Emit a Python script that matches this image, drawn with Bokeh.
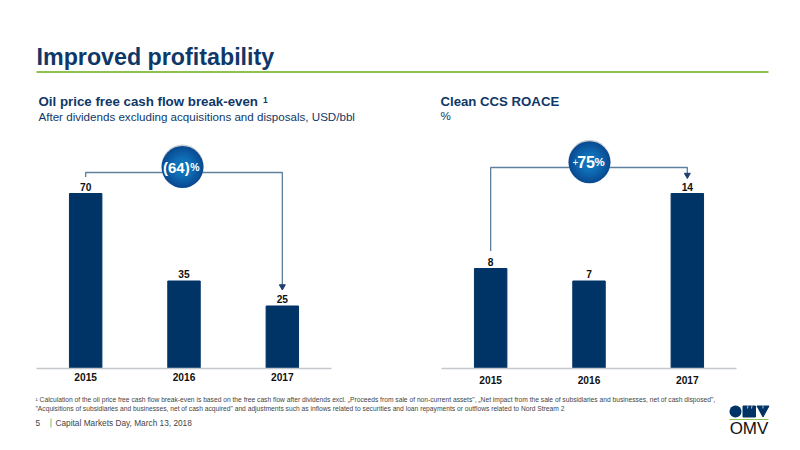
from bokeh.core.properties import value
from bokeh.embed import file_html
from bokeh.layouts import column, row
from bokeh.models import ColumnDataSource, Range1d
from bokeh.plotting import figure
from bokeh.resources import INLINE

# ---- data ----
years = ["2015", "2016", "2017"]
breakeven = [70, 35, 25]
roace = [8, 7, 14]

title_text = "Improved profitability"
left_head = "Oil price free cash flow break-even "
left_sup = "1"
left_sub = "After dividends excluding acquisitions and disposals, USD/bbl"
right_head = "Clean CCS ROACE"
right_sub = "%"
note_1 = ("¹ Calculation of the oil price free cash flow break-even is based on the free cash flow after dividends excl. "
          "„Proceeds from sale of non-current assets\", „Net impact from the sale of subsidiaries and businesses, net of cash disposed\",")
note_2 = ("\"Acquisitions of subsidiaries and businesses, net of cash acquired\" and adjustments such as inflows related to "
          "securities and loan repayments or outflows related to Nord Stream 2")
footer_text = "Capital Markets Day, March 13, 2018"

# ---- style ----
FONT = "Liberation Sans"
NAVY = "#0f3868"
BAR = "#003366"
LINE = "#5f7f9f"
ARROW = "#1f3f70"
GREEN = "#8fc151"
AXIS = "#c4c8cc"
RIM = ["#0a4c94", "#0b5299", "#0c589f", "#0d5fa6", "#0e65ad", "#0f6bb3", "#1070b8"]


def page_figure(top, bottom):
    p = figure(width=784, height=bottom - top, x_range=Range1d(0, 784), y_range=Range1d(bottom, top),
               x_axis_location=None, y_axis_location=None, toolbar_location=None, output_backend="svg",
               min_border=0)
    p.grid.visible = False
    p.outline_line_color = None
    return p


def say(p, x, y, text, size, color, bold=False, align="left", baseline="alphabetic"):
    p.text([x], [y], text=[text], text_font=value(FONT), text_font_size=f"{size}px",
           text_font_style="bold" if bold else "normal", text_color=color,
           text_align=align, text_baseline=baseline)


def chart(values, border_left, border_right, top_value, bracket_x, bracket_y, bubble_x, bubble_y, standoff, unit_px):
    p = figure(width=392, height=255, x_range=years, y_range=Range1d(0, top_value),
               y_axis_location=None, toolbar_location=None, output_backend="svg",
               min_border_left=border_left, min_border_right=border_right,
               min_border_top=0, min_border_bottom=22)
    p.grid.visible = False
    p.outline_line_color = None
    p.xaxis.major_tick_line_color = None
    p.xaxis.minor_tick_line_color = None
    p.xaxis.major_tick_out = 0
    p.xaxis.major_tick_in = 0
    p.xaxis.axis_line_color = AXIS
    p.xaxis.axis_line_width = 1.5
    p.xaxis.major_label_text_font = FONT
    p.xaxis.major_label_text_font_size = "10.2px"
    p.xaxis.major_label_text_font_style = "bold"
    p.xaxis.major_label_text_color = "#111111"
    p.xaxis.major_label_standoff = standoff

    src = ColumnDataSource(dict(year=years, value=values, label=[str(v) for v in values]))
    p.vbar(x="year", top="value", bottom=0, width=0.33, source=src, color=BAR)
    p.text(x="year", y="value", text="label", source=src, text_font=value(FONT), text_font_size="10.2px",
           text_font_style="bold", text_color="#111111", text_align="center",
           text_baseline="bottom", y_offset=-3)

    p.line(bracket_x, bracket_y, line_color=LINE, line_width=1.3)
    p.scatter([bracket_x[-1]], [bracket_y[-1]], marker="inverted_triangle", size=6, color=ARROW)

    p.scatter([bubble_x], [bubble_y + 1.5 / unit_px], marker="circle", size=42, fill_color="#b8bcc0",
              fill_alpha=0.7, line_color=None)
    for i, shade in enumerate(RIM):
        p.scatter([bubble_x], [bubble_y], marker="circle", size=42 - i * 4, fill_color=shade, line_color=None)
    return p


# ---- header ----
head = page_figure(0, 135)
say(head, 36, 56.6, title_text, 23.25, NAVY, bold=True)
head.segment([36], [71.5], [768], [71.5], line_color=GREEN, line_width=2)
say(head, 38, 101.2, left_head, 13.3, NAVY, bold=True)
say(head, 262.5, 99, left_sup, 8.5, NAVY, bold=True)
say(head, 38, 116, left_sub, 11.6, NAVY)
say(head, 440, 101, right_head, 13.2, NAVY, bold=True)
say(head, 440, 115.3, right_sub, 11.6, NAVY)

# ---- charts ----
left = chart(breakeven, 36, 61, 93.2,
             ["2015", "2015", "2017", "2017"], [76.6, 78.4, 78.4, 32.8], 1.485, 80.6, 4, 2.5)
right = chart(roace, 49, 48, 18.64,
              ["2015", "2015", "2017", "2017"], [9.4, 16.08, 16.08, 15.48], 1.505, 16.5, 7, 12.5)


def bubble_text(p, x, y, parts):
    for text, size, bold, dx in parts:
        p.text([x], [y], text=[text], text_font=value(FONT), text_font_size=f"{size}px",
               text_font_style="bold" if bold else "normal", text_color="white",
               text_align="left", text_baseline="middle", x_offset=dx)


bubble_text(left, 1.485, 80.6, [("(64)", 15, True, -19.5), ("%", 10.5, True, 7.8)])
bubble_text(right, 1.505, 16.5, [("+", 10, False, -17), ("75", 16, True, -12.3), ("%", 11.5, True, 5)])

# ---- footer ----
foot = page_figure(390, 442)
say(foot, 35, 399.3, note_1, 6.7, "#444444")
say(foot, 35, 408, note_2, 6.7, "#444444")
say(foot, 35, 422.7, "5", 8.4, "#444444")
foot.segment([50.5], [418], [50.5], [427], line_color=GREEN, line_width=1)
say(foot, 55, 422.7, footer_text, 8.3, "#444444")

# logo
foot.scatter([735], [411], marker="circle", size=12, color=BAR, line_color=None)
foot.patch([742.5, 755, 755, 742.5], [405.5, 405.5, 416.5, 416.5], color=BAR)
foot.patch([756.5, 768.5, 762.5], [405.5, 405.5, 416.5], color=BAR)
foot.segment([747.5, 751.5, 762.5], [405, 405, 405], [747, 751, 762.5], [408, 408, 408],
             line_color="white", line_width=0.7)
foot.segment([729], [419], [768], [419], line_color=GREEN, line_width=1)
say(foot, 748.5, 427.6, "OMV", 17, "#111111", align="center")

page = column(head, row(left, right), foot)
open("out.html", "w").write(file_html(page, INLINE))
